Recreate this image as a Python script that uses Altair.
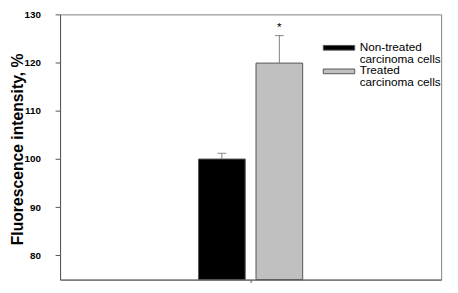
import altair as alt
import pandas as pd

# ---- data ----
conditions = ["Non-treated", "Treated"]
means = [100.0, 119.9]
errors = [1.2, 5.7]
marks = ["", "*"]
# legend rows (each label wraps onto a second line)
legend_rows = ["Non-treated", "carcinoma cells", "Treated", "carcinoma cells "]
fill_colors = ["#000000", "transparent", "#c0c0c0", "transparent"]
edge_colors = ["#555555", "transparent", "#555555", "transparent"]
y_ticks = [80, 90, 100, 110, 120, 130]
y_min, y_max = 75, 130

df = pd.DataFrame({
    "group": ["g", "g"],
    "condition": conditions,
    "mean": means,
    "upper": [m + e for m, e in zip(means, errors)],
    "mark": marks,
})

FONT = "Liberation Sans"

x_enc = alt.X("group:N", scale=alt.Scale(paddingOuter=1, paddingInner=0.248),
              axis=alt.Axis(title=None, labels=False, ticks=True, tickSize=3,
                            domain=True, domainColor="#555555", tickColor="#555555",
                            grid=False))
xo_enc = alt.XOffset("condition:N", sort=conditions,
                     scale=alt.Scale(paddingInner=0.188, paddingOuter=0))

y_scale = alt.Scale(domain=[y_min, y_max], nice=False, zero=False)

legend = alt.Legend(
    title=None, orient="none", legendX=290, legendY=27,
    symbolType="M-7,-0.35H1V0.85H-7Z", symbolSize=64,
    symbolStrokeWidth=1, symbolOpacity=1,
    labelFont=FONT, labelFontSize=12, labelColor="#000000",
    labelOffset=3, labelBaseline="middle",
    rowPadding=0, padding=0, labelLimit=200)

bars = alt.Chart(df).mark_bar(strokeWidth=1).encode(
    x=x_enc,
    xOffset=xo_enc,
    y=alt.Y("mean:Q", scale=y_scale,
            axis=alt.Axis(values=y_ticks, title="Fluorescence intensity, %",
                          grid=False, tickSize=5, labelPadding=15,
                          labelFont=FONT, labelFontSize=10, labelFontWeight="bold",
                          labelColor="#000000", domainColor="#555555",
                          tickColor="#555555",
                          titleFont=FONT, titleFontSize=16, titleFontWeight="bold",
                          titleColor="#000000", titleAngle=270,
                          titleX=-38, titleY=137, titleAlign="center",
                          titleBaseline="alphabetic")),
    y2=alt.datum(y_min),
    color=alt.Color("condition:N",
                    scale=alt.Scale(domain=legend_rows, range=fill_colors),
                    legend=legend),
    stroke=alt.Stroke("condition:N",
                      scale=alt.Scale(domain=legend_rows, range=edge_colors),
                      legend=legend),
)

err_rule = alt.Chart(df).mark_rule(color="#808080", strokeWidth=1).encode(
    x=alt.X("group:N"), xOffset=xo_enc,
    y=alt.Y("mean:Q", scale=y_scale), y2="upper:Q")

err_cap = alt.Chart(df).mark_tick(color="#555555", thickness=1, size=9, orient="horizontal").encode(
    x=alt.X("group:N"), xOffset=xo_enc,
    y=alt.Y("upper:Q", scale=y_scale))

star = alt.Chart(df).mark_text(font=FONT, fontSize=12, baseline="middle", dy=-9,
                               color="#000000").encode(
    x=alt.X("group:N"), xOffset=xo_enc,
    y=alt.Y("upper:Q", scale=y_scale), text="mark:N")

chart = alt.layer(bars, err_rule, err_cap, star).properties(
    width=388, height=270,
    autosize=alt.AutoSizeParams(type="none"),
    padding={"left": 53, "top": 4, "right": 9, "bottom": 3},
    background="white",
).configure_view(stroke="#808080", strokeWidth=1)

chart.save("out.html", embed_options={"renderer": "svg", "actions": False})
